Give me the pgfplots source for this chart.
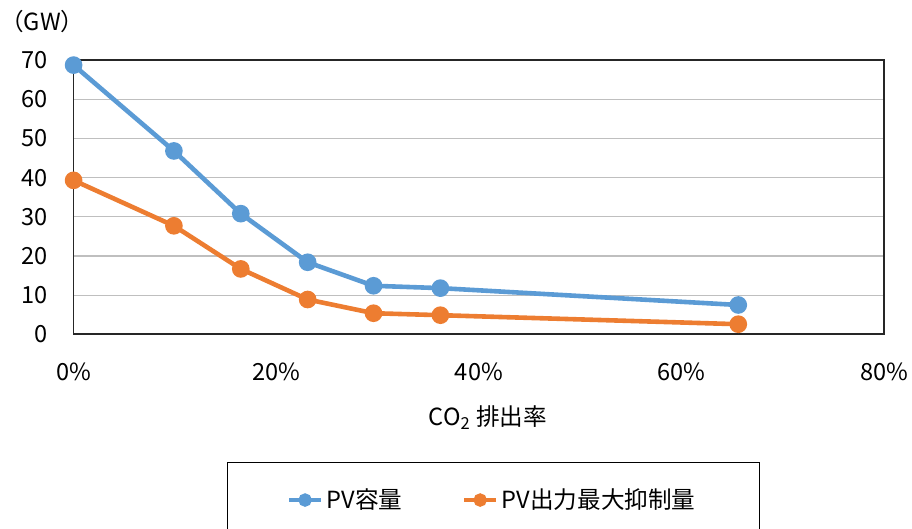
\documentclass[border=0pt]{standalone}
\usepackage{fontspec}
\setmainfont{Noto Sans CJK JP}
\usepackage{pgfplots}
\pgfplotsset{compat=1.18}
\definecolor{pvblue}{HTML}{5B9BD5}
\definecolor{pvorange}{HTML}{ED7D31}
\definecolor{gridgray}{HTML}{BFBFBF}

\begin{document}
\begin{tikzpicture}[font=\fontsize{11.8}{13}\selectfont]
\begin{axis}[
  scale only axis, width=405.3pt, height=137.2pt,
  xmin=0, xmax=80, ymin=0, ymax=70,
  xtick={0,20,40,60,80}, xticklabels={0\%,20\%,40\%,60\%,80\%},
  ytick={0,10,...,70},
  ymajorgrids, grid style={gridgray, line width=0.6pt},
  major tick length=0pt,
  axis line style={black!85, line width=0.9pt},
  /pgf/number format/assume math mode=true,
  tick label style={font=\fontsize{11.8}{13}\selectfont},
  xticklabel style={anchor=center, yshift=-18.5pt},
  yticklabel style={anchor=east, inner sep=0pt, xshift=-12.8pt},
  xlabel={CO\textsubscript{2} 排出率},
  xlabel style={at={(axis description cs:0.5,0)}, anchor=center, yshift=-41.5pt, xshift=4.5pt, font=\fontsize{11.8}{13}\selectfont},
  legend columns=2,
  legend style={at={(axis description cs:0.518,-0.4655)}, anchor=north,
    draw=black, line width=0.5pt, inner xsep=30pt, inner ysep=11pt,
    font=\fontsize{11.8}{13}\selectfont,
    /tikz/every even column/.append style={column sep=28pt}},
  legend image code/.code={
    \draw[#1, line width=1.7pt] (0pt,0pt) -- (16pt,0pt);
    \draw[#1, line width=1.7pt, mark size=2.5pt] plot coordinates {(8pt,0pt)};
  },
]
\addplot[pvblue, line width=2.3pt, mark=*, mark size=3.25pt, mark options={solid, fill=pvblue, draw=pvblue}]
  coordinates {(0,68.7)(9.9,46.8)(16.5,30.8)(23.1,18.4)(29.6,12.4)(36.2,11.8)(65.6,7.5)};
\addlegendentry{PV容量}
\addplot[pvorange, line width=2.3pt, mark=*, mark size=3.25pt, mark options={solid, fill=pvorange, draw=pvorange}]
  coordinates {(0,39.3)(9.9,27.7)(16.5,16.7)(23.1,8.9)(29.6,5.4)(36.2,4.9)(65.6,2.6)};
\addlegendentry{PV出力最大抑制量}
\end{axis}
\node[anchor=west, inner sep=0pt, font=\fontsize{11.8}{13}\selectfont] at (-36.8pt,156.2pt) {（GW）};
\pgfresetboundingbox
\useasboundingbox (-36.8pt,-96.85pt) rectangle (419.2pt,167.2pt);
\end{tikzpicture}
\end{document}
